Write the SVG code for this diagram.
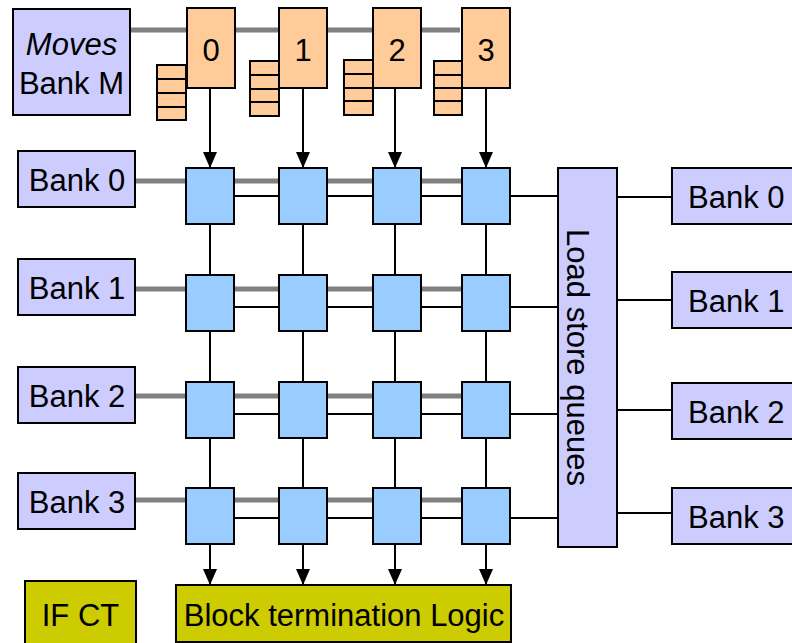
<svg xmlns="http://www.w3.org/2000/svg" width="792" height="643" viewBox="0 0 792 643">
<defs>
<marker id="ah" markerUnits="userSpaceOnUse" markerWidth="16" markerHeight="14" viewBox="0 0 16 14" refX="16" refY="7" orient="auto">
<path d="M0,0 L16,7 L0,14 Z" fill="#000"/>
</marker>
<style>
.t{font-family:"Liberation Sans",Arial,sans-serif;font-size:31px;fill:#000}
.lav{fill:#ccccff;stroke:#000;stroke-width:2}
.org{fill:#ffcc99;stroke:#000;stroke-width:2}
.blu{fill:#99ccff;stroke:#000;stroke-width:2}
.olv{fill:#cccc00;stroke:#000;stroke-width:2}
.gray{stroke:#808080;stroke-width:5;fill:none}
.thin{stroke:#000;stroke-width:2;fill:none}
.arr{stroke:#000;stroke-width:2;fill:none}
</style>
</defs>
<rect width="792" height="643" fill="#fff"/>

<g id="connectors">
<line class="gray" x1="131" y1="30" x2="460" y2="30"/>
<line class="gray" x1="136" y1="181" x2="462" y2="181"/>
<line class="gray" x1="136" y1="289" x2="462" y2="289"/>
<line class="gray" x1="136" y1="396" x2="462" y2="396"/>
<line class="gray" x1="136" y1="500" x2="462" y2="500"/>
<line class="thin" x1="232" y1="196" x2="558" y2="196"/>
<line class="thin" x1="232" y1="307" x2="558" y2="307"/>
<line class="thin" x1="232" y1="414" x2="558" y2="414"/>
<line class="thin" x1="232" y1="518" x2="558" y2="518"/>
<line class="thin" x1="617" y1="197" x2="672" y2="197"/>
<line class="thin" x1="617" y1="300" x2="672" y2="300"/>
<line class="thin" x1="617" y1="410" x2="672" y2="410"/>
<line class="thin" x1="617" y1="513" x2="672" y2="513"/>
<g class="thin">
<line x1="210" y1="224" x2="210" y2="275"/><line x1="303" y1="224" x2="303" y2="275"/><line x1="395" y1="224" x2="395" y2="275"/><line x1="486" y1="224" x2="486" y2="275"/>
<line x1="210" y1="331" x2="210" y2="382"/><line x1="303" y1="331" x2="303" y2="382"/><line x1="395" y1="331" x2="395" y2="382"/><line x1="486" y1="331" x2="486" y2="382"/>
<line x1="210" y1="438" x2="210" y2="488"/><line x1="303" y1="438" x2="303" y2="488"/><line x1="395" y1="438" x2="395" y2="488"/><line x1="486" y1="438" x2="486" y2="488"/>
</g>
<g class="arr">
<line x1="210" y1="88" x2="210" y2="168" marker-end="url(#ah)"/>
<line x1="303" y1="88" x2="303" y2="168" marker-end="url(#ah)"/>
<line x1="395" y1="88" x2="395" y2="168" marker-end="url(#ah)"/>
<line x1="486" y1="88" x2="486" y2="168" marker-end="url(#ah)"/>
<line x1="210" y1="544" x2="210" y2="585" marker-end="url(#ah)"/>
<line x1="303" y1="544" x2="303" y2="585" marker-end="url(#ah)"/>
<line x1="395" y1="544" x2="395" y2="585" marker-end="url(#ah)"/>
<line x1="486" y1="544" x2="486" y2="585" marker-end="url(#ah)"/>
</g>
</g>

<g id="moves">
<rect class="lav" x="13" y="9" width="117" height="106"/>
<text class="t" x="71.5" y="55" text-anchor="middle" font-style="italic" font-size="31.5">Moves</text>
<text class="t" x="71.5" y="94" text-anchor="middle" font-size="32">Bank M</text>
</g>

<g id="q0"><rect class="org" x="157" y="65" width="29" height="55"/><path class="thin" d="M157,79 H186 M157,93 H186 M157,107 H186"/></g>
<g id="q1"><rect class="org" x="250" y="61" width="29" height="55"/><path class="thin" d="M250,75 H279 M250,89 H279 M250,102 H279"/></g>
<g id="q2"><rect class="org" x="344" y="60" width="29" height="55"/><path class="thin" d="M344,74 H373 M344,88 H373 M344,101 H373"/></g>
<g id="q3"><rect class="org" x="434" y="61" width="28" height="54"/><path class="thin" d="M434,75 H462 M434,88 H462 M434,101 H462"/></g>

<g id="m0"><rect class="org" x="187" y="8" width="48" height="80"/><text class="t" x="211" y="61" text-anchor="middle">0</text></g>
<g id="m1"><rect class="org" x="279" y="8" width="48" height="80"/><text class="t" x="303" y="61" text-anchor="middle">1</text></g>
<g id="m2"><rect class="org" x="373" y="8" width="48" height="80"/><text class="t" x="397" y="61" text-anchor="middle">2</text></g>
<g id="m3"><rect class="org" x="462" y="8" width="48" height="80"/><text class="t" x="486" y="61" text-anchor="middle">3</text></g>

<g id="lbank0"><rect class="lav" x="18" y="151" width="117" height="56"/><text class="t" x="77" y="191" text-anchor="middle">Bank 0</text></g>
<g id="lbank1"><rect class="lav" x="18" y="259" width="117" height="56"/><text class="t" x="77" y="299" text-anchor="middle">Bank 1</text></g>
<g id="lbank2"><rect class="lav" x="18" y="367" width="117" height="56"/><text class="t" x="77" y="407" text-anchor="middle">Bank 2</text></g>
<g id="lbank3"><rect class="lav" x="18" y="473" width="117" height="56"/><text class="t" x="77" y="513" text-anchor="middle">Bank 3</text></g>

<g id="r0c0"><rect class="blu" x="186" y="168" width="48" height="56"/></g>
<g id="r0c1"><rect class="blu" x="279" y="168" width="48" height="56"/></g>
<g id="r0c2"><rect class="blu" x="373" y="168" width="48" height="56"/></g>
<g id="r0c3"><rect class="blu" x="462" y="168" width="48" height="56"/></g>
<g id="r1c0"><rect class="blu" x="186" y="275" width="48" height="56"/></g>
<g id="r1c1"><rect class="blu" x="279" y="275" width="48" height="56"/></g>
<g id="r1c2"><rect class="blu" x="373" y="275" width="48" height="56"/></g>
<g id="r1c3"><rect class="blu" x="462" y="275" width="48" height="56"/></g>
<g id="r2c0"><rect class="blu" x="186" y="382" width="48" height="56"/></g>
<g id="r2c1"><rect class="blu" x="279" y="382" width="48" height="56"/></g>
<g id="r2c2"><rect class="blu" x="373" y="382" width="48" height="56"/></g>
<g id="r2c3"><rect class="blu" x="462" y="382" width="48" height="56"/></g>
<g id="r3c0"><rect class="blu" x="186" y="488" width="48" height="56"/></g>
<g id="r3c1"><rect class="blu" x="279" y="488" width="48" height="56"/></g>
<g id="r3c2"><rect class="blu" x="373" y="488" width="48" height="56"/></g>
<g id="r3c3"><rect class="blu" x="462" y="488" width="48" height="56"/></g>

<g id="lsq"><rect class="lav" x="558" y="168" width="59" height="379"/>
<text class="t" transform="translate(567,357.5) rotate(90)" text-anchor="middle" font-size="31.8">Load store queues</text></g>

<g id="rbank0"><rect class="lav" x="672" y="168" width="130" height="56"/><text class="t" x="688" y="208">Bank 0</text></g>
<g id="rbank1"><rect class="lav" x="672" y="272" width="130" height="56"/><text class="t" x="688" y="312">Bank 1</text></g>
<g id="rbank2"><rect class="lav" x="672" y="383" width="130" height="56"/><text class="t" x="688" y="423">Bank 2</text></g>
<g id="rbank3"><rect class="lav" x="672" y="488" width="130" height="56"/><text class="t" x="688" y="528">Bank 3</text></g>

<g id="ifct"><rect class="olv" x="25" y="581" width="111" height="70"/><text class="t" x="80.5" y="626" text-anchor="middle">IF CT</text></g>
<g id="btl"><rect class="olv" x="176" y="585" width="335" height="57"/><text class="t" x="344" y="626" text-anchor="middle" font-size="32.5">Block termination Logic</text></g>
</svg>
